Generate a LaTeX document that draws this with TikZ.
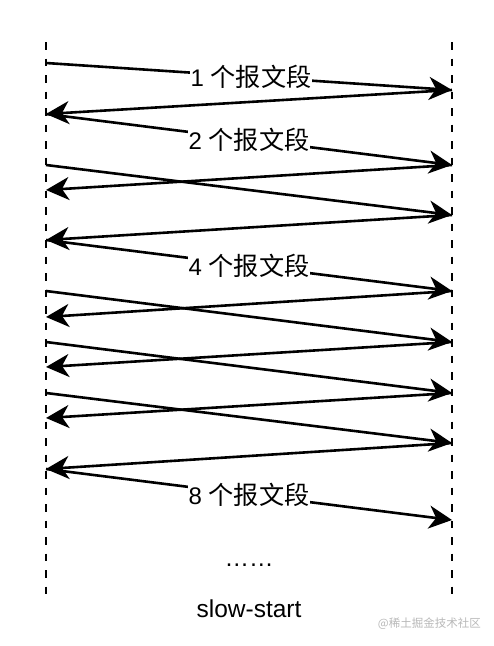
\documentclass[tikz,border=0pt]{standalone}
\usepackage{fontspec}
\setmainfont{Liberation Sans}
\newfontfamily\cjk[Scale=1.05]{Noto Sans CJK SC}
\newfontfamily\cjkmark{Noto Sans CJK SC}
\usetikzlibrary{arrows.meta}
\tikzset{
  lifeline/.style={line width=2.8pt, dash pattern=on 7.5pt off 9pt},
  msg/.style={line width=2.6pt, -{Stealth[length=23pt,width=23pt,inset=7pt]}},
  lab/.style={fill=white, inner sep=1pt, font=\fontsize{24}{28}\selectfont},
  txt/.style={inner sep=0pt, font=\fontsize{24.5}{28}\selectfont},
  wm/.style={inner sep=0pt, text=black!28, font=\cjkmark\fontsize{11.5}{13}\selectfont}
}
\begin{document}
\begin{tikzpicture}[x=1pt,y=-1pt]
\useasboundingbox (0,0) rectangle (494,646);
% lifelines
\coordinate (LT) at (46,42); \coordinate (LB) at (46,597);
\coordinate (RT) at (452,42); \coordinate (RB) at (452,597);
\draw[lifeline] (LT) -- (LB);
\draw[lifeline] (RT) -- (RB);
% left points
\foreach \n/\y in {a/63,b/114,c/165,d/190,e/240,f/291,g/317,h/342,i/367,j/393,k/418,l/469}
  \coordinate (L\n) at (46,\y);
% right points
\foreach \n/\y in {a/90,b/165,c/215,d/291,e/342,f/393,g/443,h/520}
  \coordinate (R\n) at (452,\y);
% messages
\draw[msg] (La) -- (Ra) node[lab, pos=0.505] (m1) {1 {\cjk 个报文段}};
\draw[msg] (Ra) -- (Lb);
\draw[msg] (Lb) -- (Rb) node[lab, midway] (m2) {2 {\cjk 个报文段}};
\draw[msg] (Rb) -- (Ld);
\draw[msg] (Lc) -- (Rc);
\draw[msg] (Rc) -- (Le);
\draw[msg] (Le) -- (Rd) node[lab, midway] (m4) {4 {\cjk 个报文段}};
\draw[msg] (Rd) -- (Lg);
\draw[msg] (Lf) -- (Re);
\draw[msg] (Re) -- (Li);
\draw[msg] (Lh) -- (Rf);
\draw[msg] (Rf) -- (Lk);
\draw[msg] (Lj) -- (Rg);
\draw[msg] (Rg) -- (Ll);
\draw[msg] (Ll) -- (Rh) node[lab, midway] (m8) {8 {\cjk 个报文段}};
% texts
\node[txt, anchor=base] (dots) at (249,566) {……};
\node[txt, anchor=base] (title) at (249,617) {slow-start};
\node[wm, anchor=east] (mark) at (481,624) {@稀土掘金技术社区};
\end{tikzpicture}
\end{document}
